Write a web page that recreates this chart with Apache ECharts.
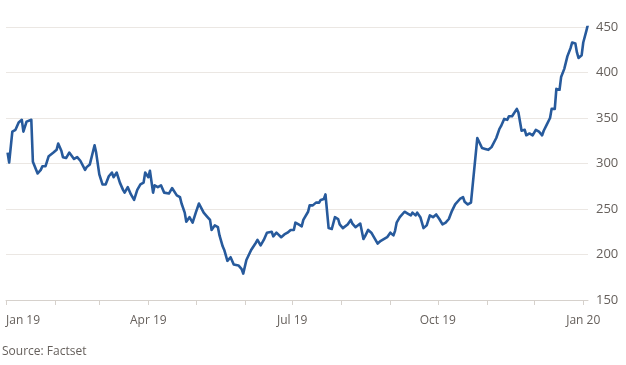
<!DOCTYPE html>
<html>
<head>
<meta charset="utf-8">
<script src="https://cdn.jsdelivr.net/npm/echarts@6/dist/echarts.min.js"></script>
<style>
html,body{margin:0;padding:0;background:#fff;}
#chart{width:626px;height:365px;}
</style>
</head>
<body>
<div id="chart"></div>
<script>
// Data
const dates = [
 '2019-01-02','2019-01-03','2019-01-05','2019-01-07','2019-01-09','2019-01-11','2019-01-12','2019-01-14','2019-01-17','2019-01-18',
 '2019-01-19','2019-01-21','2019-01-23','2019-01-24','2019-01-26','2019-01-28','2019-01-31','2019-02-02','2019-02-03','2019-02-05',
 '2019-02-06','2019-02-08','2019-02-10','2019-02-11','2019-02-13','2019-02-15','2019-02-17','2019-02-20','2019-02-21','2019-02-23',
 '2019-02-26','2019-02-27','2019-03-01','2019-03-03','2019-03-05','2019-03-07','2019-03-09','2019-03-10','2019-03-12','2019-03-14',
 '2019-03-16','2019-03-17','2019-03-19','2019-03-21','2019-03-23','2019-03-25','2019-03-27','2019-03-29','2019-03-30','2019-04-01',
 '2019-04-02','2019-04-04','2019-04-05','2019-04-07','2019-04-09','2019-04-11','2019-04-14','2019-04-16','2019-04-17','2019-04-19',
 '2019-04-21','2019-04-22','2019-04-24','2019-04-25','2019-04-27','2019-04-29','2019-05-01','2019-05-03','2019-05-04','2019-05-06',
 '2019-05-08','2019-05-10','2019-05-11','2019-05-13','2019-05-15','2019-05-16','2019-05-18','2019-05-19','2019-05-21','2019-05-23',
 '2019-05-25','2019-05-28','2019-05-30','2019-05-31','2019-06-02','2019-06-05','2019-06-06','2019-06-08','2019-06-09','2019-06-11',
 '2019-06-13','2019-06-15','2019-06-18','2019-06-19','2019-06-21','2019-06-24','2019-06-26','2019-06-28','2019-06-30','2019-07-02',
 '2019-07-03','2019-07-05','2019-07-07','2019-07-08','2019-07-09','2019-07-11','2019-07-12','2019-07-14','2019-07-16','2019-07-18',
 '2019-07-19','2019-07-21','2019-07-22','2019-07-24','2019-07-26','2019-07-28','2019-07-30','2019-07-31','2019-08-02','2019-08-05',
 '2019-08-07','2019-08-08','2019-08-10','2019-08-13','2019-08-15','2019-08-16','2019-08-18','2019-08-20','2019-08-22','2019-08-24',
 '2019-08-26','2019-08-27','2019-08-30','2019-09-01','2019-09-03','2019-09-04','2019-09-05','2019-09-07','2019-09-10','2019-09-12',
 '2019-09-14','2019-09-15','2019-09-17','2019-09-18','2019-09-20','2019-09-22','2019-09-24','2019-09-26','2019-09-28','2019-09-30',
 '2019-10-02','2019-10-04','2019-10-06','2019-10-08','2019-10-10','2019-10-12','2019-10-15','2019-10-17','2019-10-18','2019-10-20',
 '2019-10-22','2019-10-23','2019-10-26','2019-10-27','2019-10-29','2019-10-31','2019-11-02','2019-11-04','2019-11-05','2019-11-07',
 '2019-11-09','2019-11-10','2019-11-12','2019-11-14','2019-11-15','2019-11-17','2019-11-18','2019-11-20','2019-11-21','2019-11-22',
 '2019-11-23','2019-11-25','2019-11-26','2019-11-28','2019-11-30','2019-12-02','2019-12-04','2019-12-06','2019-12-07','2019-12-09',
 '2019-12-11','2019-12-12','2019-12-14','2019-12-15','2019-12-17','2019-12-18','2019-12-20','2019-12-21','2019-12-22','2019-12-24',
 '2019-12-25','2019-12-27','2019-12-28','2019-12-29','2019-12-31','2020-01-01','2020-01-03','2020-01-04'
];
const values = [
 312,301,335,337,345,348,335,346,348,302,
 300,289,293,297,297,308,312,315,322,314,
 307,306,312,310,305,307,303,293,296,299,
 320,312,288,277,277,286,290,285,290,279,
 271,268,274,266,260,271,277,279,290,285,
 292,268,276,274,276,268,267,273,272,265,
 263,256,246,236,241,235,246,256,254,246,
 242,238,227,232,230,221,209,205,193,197,
 189,188,184,179,194,205,204,213,216,210,
 216,224,225,220,224,219,222,224,227,227,
 235,233,231,238,239,247,254,254,257,257,
 260,261,266,229,228,241,239,233,229,233,
 238,234,230,234,217,220,227,224,218,212,
 215,213,219,224,221,226,235,241,247,245,
 243,246,243,246,241,229,232,243,241,244,
 239,233,235,239,248,255,261,263,258,255,
 257,256,328,327,317,316,315,318,320,328,
 338,341,349,348,352,352,354,360,356,355,
 336,337,331,333,331,337,335,331,336,343,
 350,360,360,382,381,395,404,406,418,427,
 433,432,422,416,419,433,446,453
];
const yTicks = [150, 200, 250, 300, 350, 400, 450];
const monthTicks = ['2019-01-01','2019-02-01','2019-03-01','2019-04-01','2019-05-01','2019-06-01','2019-07-01','2019-08-01','2019-09-01','2019-10-01','2019-11-01','2019-12-01','2020-01-01'];
const labelTicks = ['2019-01-01','2019-04-01','2019-07-01','2019-10-01','2020-01-01'];
const labelTexts = ['Jan 19','Apr 19','Jul 19','Oct 19','Jan 20'];
const sourceText = 'Source: Factset';

const ts = s => { const p = s.split('-').map(Number); return Date.UTC(p[0], p[1]-1, p[2]); };
const series = dates.map((d, i) => [ts(d), values[i]]);
const labelMap = {};
labelTicks.forEach((d, i) => { labelMap[ts(d)] = labelTexts[i]; });

const chart = echarts.init(document.getElementById('chart'), null, {renderer: 'canvas'});
const txt = '#66605c';
chart.setOption({
  animation: false,
  backgroundColor: '#ffffff',
  textStyle: {fontFamily: 'Open Sans'},
  grid: {left: 6, right: 38, top: 27, bottom: 65, containLabel: false},
  xAxis: {
    type: 'value',
    min: ts('2019-01-01'),
    max: ts('2020-01-04'),
    axisLine: {show: true, lineStyle: {color: '#d6d1cc', width: 1}},
    axisTick: {show: true, length: 5, lineStyle: {color: '#d6d1cc'}, customValues: monthTicks.map(ts)},
    axisLabel: {
      customValues: labelTicks.map(ts),
      formatter: v => labelMap[v] || '',
      color: txt, fontSize: 12, fontFamily: 'Open Sans', margin: 15,
      alignMinLabel: 'left'
    },
    splitLine: {show: false}
  },
  yAxis: {
    type: 'value',
    position: 'right',
    min: yTicks[0], max: yTicks[yTicks.length - 1], interval: 50,
    axisLine: {show: false},
    axisTick: {show: false},
    axisLabel: {color: txt, fontSize: 13, fontFamily: 'Open Sans', margin: 8},
    splitLine: {lineStyle: {color: '#ebe7e3', width: 1}}
  },
  series: [{
    type: 'line',
    data: series,
    showSymbol: false,
    lineStyle: {color: '#275a9c', width: 2.6, join: 'round'},
    itemStyle: {color: '#275a9c'}
  }],
  graphic: [{
    type: 'text', left: 2, top: 346,
    style: {text: sourceText, fill: txt, fontSize: 12, fontFamily: 'Open Sans'}
  }]
});
</script>
</body>
</html>
